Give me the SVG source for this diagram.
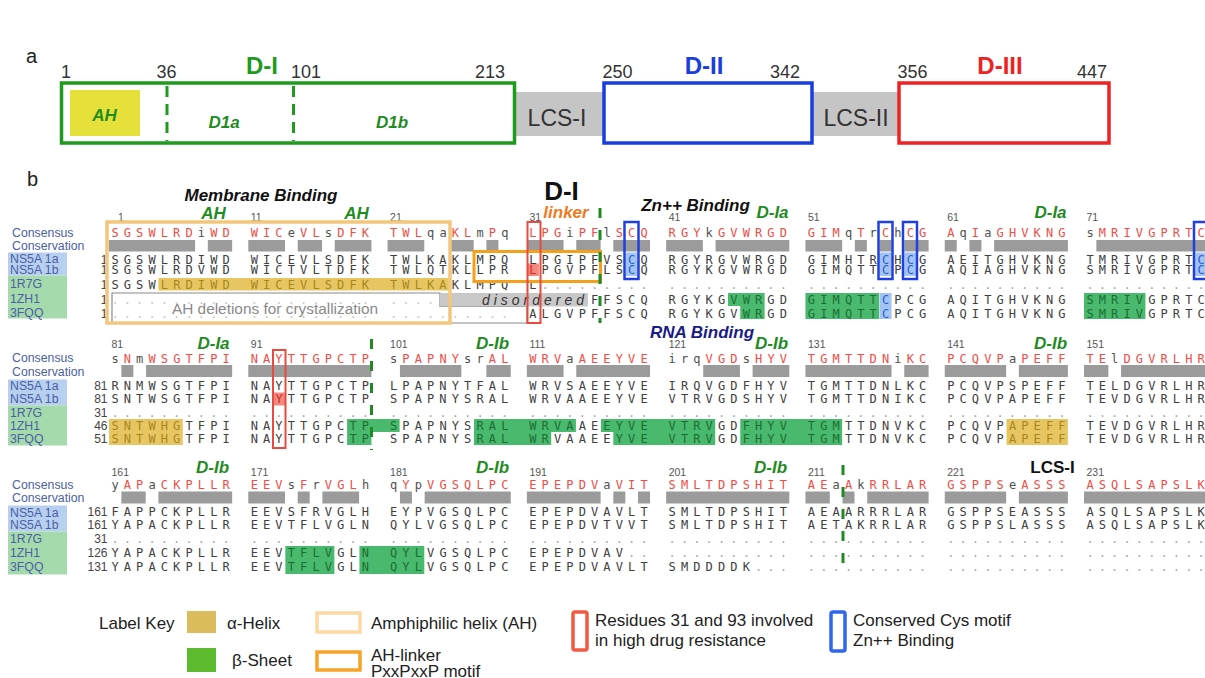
<svg xmlns="http://www.w3.org/2000/svg" width="1205" height="678" viewBox="0 0 1205 678">
<style>
.sans{font-family:"Liberation Sans",Arial,sans-serif}
.lab{font-family:"Liberation Sans",Arial,sans-serif;font-size:12.3px;fill:#4d5ea6}
.num{font-family:"Liberation Sans",Arial,sans-serif;font-size:10.5px;fill:#555}
.rn{font-family:"Liberation Sans",Arial,sans-serif;font-size:12px;fill:#444;text-anchor:end}
.seq{font-family:"DejaVu Sans Mono",monospace;font-size:12px;letter-spacing:5.125px;fill:#404040}
.con{fill:#ef4c45}
.lc{fill:#505050}
.dt{fill:#a8a8a8}
.dt2{fill:#c8c8c8}
.g{fill:#1d6e34}
.y{fill:#a8861e}
.b{fill:#2a5bd6}
.r{fill:#c8322a}
.bar{fill:#9b9b9b}
.hg{fill:#48b96d}
.hy{fill:#e7c662}
.hb{fill:#a3c4f3}
.hr{fill:#f4877e}
.dash{stroke:#1f8a24;stroke-width:3;stroke-dasharray:10 12;fill:none}
.ann{font-family:"Liberation Sans",Arial,sans-serif;font-weight:bold;font-style:italic;font-size:17px;text-anchor:middle}
.grn{fill:#1e8c1e}
.pn{font-family:"Liberation Sans",Arial,sans-serif;font-size:18px;fill:#333;text-anchor:middle}
.leg{font-family:"Liberation Sans",Arial,sans-serif;font-size:17px;fill:#222}
.lblue{fill:#b7d0ef}
.lgreen{fill:#a5dbac}
</style>

<!-- panel labels -->
<text class="sans" x="26" y="63" font-size="20" fill="#222">a</text>
<text class="sans" x="27" y="186" font-size="20" fill="#222">b</text>

<!-- panel a -->
<g id="panel-a">
  <g id="lcs1"><rect x="510" y="92" width="100" height="44" fill="#c5c5c5"/><text class="sans" x="557" y="126" font-size="23" fill="#333" text-anchor="middle">LCS-I</text></g>
  <g id="lcs2"><rect x="808" y="92" width="95" height="44" fill="#c5c5c5"/><text class="sans" x="856" y="126" font-size="23" fill="#333" text-anchor="middle">LCS-II</text></g>
  <g id="domain-I">
    <rect x="61.5" y="83" width="453" height="60" fill="#fff" stroke="#1e9b1e" stroke-width="3.5"/>
    <rect x="70" y="90" width="70" height="46" fill="#e6e13a"/>
    <text class="ann" x="104.5" y="120.5" font-size="21" fill="#1e8c1e">AH</text>
    <line x1="167" y1="86" x2="167" y2="141" stroke="#1e9b1e" stroke-width="3" stroke-dasharray="11 7"/>
    <line x1="293.5" y1="86" x2="293.5" y2="141" stroke="#1e9b1e" stroke-width="3" stroke-dasharray="11 7"/>
    <text class="ann" x="224" y="128" font-size="21" fill="#1e8c1e">D1a</text>
    <text class="ann" x="392" y="128" font-size="21" fill="#1e8c1e">D1b</text>
    <text class="sans" x="262" y="74" font-size="24" font-weight="bold" fill="#1e9b1e" text-anchor="middle">D-I</text>
    <text class="pn" x="66" y="78">1</text>
    <text class="pn" x="166.5" y="78">36</text>
    <text class="pn" x="306" y="78">101</text>
    <text class="pn" x="490" y="78">213</text>
  </g>
  <g id="domain-II">
    <rect x="604" y="83" width="208" height="60" fill="#fff" stroke="#1a3de0" stroke-width="3.5"/>
    <text class="sans" x="704" y="74" font-size="24" font-weight="bold" fill="#1a3de0" text-anchor="middle">D-II</text>
    <text class="pn" x="617.5" y="78">250</text>
    <text class="pn" x="785" y="78">342</text>
  </g>
  <g id="domain-III">
    <rect x="899" y="83" width="210" height="60" fill="#fff" stroke="#ee2222" stroke-width="3.5"/>
    <text class="sans" x="1000" y="74" font-size="24" font-weight="bold" fill="#ee2222" text-anchor="middle">D-III</text>
    <text class="pn" x="912.5" y="78">356</text>
    <text class="pn" x="1092" y="78">447</text>
  </g>
</g>

<!-- ============ BLOCK 1 ============ -->
<g id="block1">
  <g id="labels1">
    <rect class="lblue" x="8" y="252.5" width="59" height="23"/>
    <rect class="lgreen" x="8" y="275.5" width="59" height="43"/>
    <text class="lab" x="12" y="236.5">Consensus</text>
    <text class="lab" x="12" y="249.5">Conservation</text>
    <text class="lab" x="10" y="263">NS5A 1a</text>
    <text class="lab" x="10" y="273.5">NS5A 1b</text>
    <text class="lab" x="10" y="288">1R7G</text>
    <text class="lab" x="10" y="303">1ZH1</text>
    <text class="lab" x="10" y="317">3FQQ</text>
  </g>
  <text class="ann" x="261" y="201" fill="#111">Membrane Binding</text>
  <text class="ann grn" x="213.5" y="218.5">AH</text>
  <text class="ann grn" x="356.5" y="218.5">AH</text>
  <text class="sans" x="561.5" y="200" font-size="26" font-weight="bold" fill="#111" text-anchor="middle">D-I</text>
  <text class="ann" x="566" y="218" fill="#f07a1e">linker</text>
  <text class="ann" x="695.5" y="210.5" fill="#111">Zn++ Binding</text>
  <text class="ann grn" x="772.5" y="218">D-Ia</text>
  <text class="ann grn" x="1050.5" y="218">D-Ia</text>
  <text class="num" y="221"><tspan x="118">1</tspan><tspan x="250.8">11</tspan><tspan x="390.1">21</tspan><tspan x="529.4">31</tspan><tspan x="668.7">41</tspan><tspan x="808">51</tspan><tspan x="947.2">61</tspan><tspan x="1086.5">71</tspan></text>
  <g id="bars1">
    <rect class="bar" x="109" y="240" width="86.1" height="11.5"/><rect class="bar" x="207.8" y="240" width="24.35" height="11.5"/>
    <rect class="bar" x="248.29" y="240" width="36.7" height="11.5"/><rect class="bar" x="297.69" y="240" width="24.35" height="11.5"/><rect class="bar" x="334.74" y="240" width="36.7" height="11.5"/>
    <rect class="bar" x="387.58" y="240" width="36.7" height="11.5"/><rect class="bar" x="449.33" y="240" width="24.35" height="11.5"/><rect class="bar" x="486.38" y="240" width="12" height="11.5"/>
    <rect class="bar" x="526.87" y="240" width="36.7" height="11.5"/><rect class="bar" x="576.27" y="240" width="24.35" height="11.5"/><rect class="bar" x="613.32" y="240" width="36.7" height="11.5"/>
    <rect class="bar" x="666.16" y="240" width="36.7" height="11.5"/><rect class="bar" x="715.56" y="240" width="73.75" height="11.5"/>
    <rect class="bar" x="805.45" y="240" width="36.7" height="11.5"/><rect class="bar" x="854.85" y="240" width="12" height="11.5"/><rect class="bar" x="879.55" y="240" width="12" height="11.5"/><rect class="bar" x="904.25" y="240" width="24.35" height="11.5"/>
    <rect class="bar" x="944.74" y="240" width="12" height="11.5"/><rect class="bar" x="969.44" y="240" width="12" height="11.5"/><rect class="bar" x="994.14" y="240" width="73.75" height="11.5"/>
    <rect class="bar" x="1096.38" y="240" width="110.8" height="11.5"/>
  </g>
  <g id="hl1">
    <rect class="hy" x="158.4" y="278" width="290.6" height="12.5"/>
    <rect class="hb" x="625.67" y="252.5" width="12" height="23.5"/>
    <rect class="hb" x="879.55" y="252.5" width="12" height="23.5"/>
    <rect class="hb" x="904.25" y="252.5" width="12" height="23.5"/>
    <rect class="hb" x="1195.18" y="252.5" width="12" height="23.5"/>
    <rect class="hr" x="526.87" y="263.5" width="12" height="12.5"/>
    <rect class="hg" x="727.91" y="293" width="36.7" height="13"/>
    <rect class="hg" x="740.26" y="306" width="24.35" height="13"/>
    <rect class="hg" x="805.45" y="293" width="73.75" height="26"/>
    <rect class="hb" x="879.55" y="293" width="12" height="26"/>
    <rect class="hg" x="1084.03" y="293" width="61.4" height="26"/>
  </g>
  <g id="ahdel">
    <polygon points="112,293 440,293 440,306.5 527,306.5 527,323 112,323" fill="#fff" stroke="#8a8a8a" stroke-width="1.2"/>
    <rect x="440" y="293" width="148" height="13.5" fill="#c8c8c8"/>
  </g>
  <text class="seq con" y="237"><tspan x="111.39">SGSWLRD<tspan class="lc">i</tspan>WD</tspan> <tspan x="250.68">WIC<tspan class="lc">e</tspan>VL<tspan class="lc">s</tspan>DFK</tspan> <tspan x="389.97">TWL<tspan class="lc">qa</tspan>KL<tspan class="lc">m</tspan>P<tspan class="lc">q</tspan></tspan> <tspan x="529.26">LPG<tspan class="lc">i</tspan>PF<tspan class="lc">l</tspan>SCQ</tspan> <tspan x="668.55">RGY<tspan class="lc">k</tspan>GVWRGD</tspan> <tspan x="807.84">GIM<tspan class="lc">q</tspan>T<tspan class="lc">r</tspan>C<tspan class="lc">h</tspan>CG</tspan> <tspan x="947.13">A<tspan class="lc">q</tspan>I<tspan class="lc">a</tspan>GHVKNG</tspan> <tspan x="1086.42"><tspan class="lc">s</tspan>MRIVGPRTC</tspan></text>
  <text class="seq" y="263.5"><tspan x="111.39">SGSWLRDIWD</tspan> <tspan x="250.68">WICEVLSDFK</tspan> <tspan x="389.97">TWLKAKLMPQ</tspan> <tspan x="529.26">LPGIPFVS<tspan class="b">C</tspan>Q</tspan> <tspan x="668.55">RGYRGVWRGD</tspan> <tspan x="807.84">GIMHTR<tspan class="b">C</tspan>H<tspan class="b">C</tspan>G</tspan> <tspan x="947.13">AEITGHVKNG</tspan> <tspan x="1086.42">TMRIVGPRT<tspan class="b">C</tspan></tspan></text>
  <text class="seq" y="274"><tspan x="111.39">SGSWLRDVWD</tspan> <tspan x="250.68">WICTVLTDFK</tspan> <tspan x="389.97">TWLQTKLLPR</tspan> <tspan x="529.26"><tspan class="r">L</tspan>PGVPFLS<tspan class="b">C</tspan>Q</tspan> <tspan x="668.55">RGYKGVWRGD</tspan> <tspan x="807.84">GIMQTT<tspan class="b">C</tspan>P<tspan class="b">C</tspan>G</tspan> <tspan x="947.13">AQIAGHVKNG</tspan> <tspan x="1086.42">SMRIVGPRT<tspan class="b">C</tspan></tspan></text>
  <text class="seq" y="288.5"><tspan x="111.39">SGSW<tspan class="y">LRDIWD</tspan></tspan> <tspan x="250.68" class="y">WICEVLSDFK</tspan> <tspan x="389.97"><tspan class="y">TWLKA</tspan>KLMPQ</tspan> <tspan x="529.26">L<tspan class="dt">.........</tspan></tspan> <tspan x="668.55" class="dt">..........</tspan> <tspan x="807.84" class="dt">..........</tspan> <tspan x="947.13" class="dt">..........</tspan> <tspan x="1086.42" class="dt">..........</tspan></text>
  <text class="seq" y="303.5"><tspan x="111.39" class="dt2">..........</tspan> <tspan x="250.68" class="dt2">..........</tspan> <tspan x="389.97" class="dt2">....</tspan> <tspan x="591.01">FFSCQ</tspan> <tspan x="668.55">RGYKG<tspan class="g">VWR</tspan>GD</tspan> <tspan x="807.84"><tspan class="g">GIMQTT</tspan><tspan class="b">C</tspan>PCG</tspan> <tspan x="947.13">AQITGHVKNG</tspan> <tspan x="1086.42"><tspan class="g">SMRIV</tspan>GPRTC</tspan></text>
  <text class="seq" y="317.5"><tspan x="111.39" class="dt2">..........</tspan> <tspan x="250.68" class="dt2">..........</tspan> <tspan x="389.97" class="dt2">..........</tspan> <tspan x="529.26">ALGVPFFSCQ</tspan> <tspan x="668.55">RGYKGV<tspan class="g">WR</tspan>GD</tspan> <tspan x="807.84"><tspan class="g">GIMQTT</tspan><tspan class="b">C</tspan>PCG</tspan> <tspan x="947.13">AQITGHVKNG</tspan> <tspan x="1086.42"><tspan class="g">SMRIV</tspan>GPRTC</tspan></text>
  <text class="rn" x="107.5" y="263.5">1</text><text class="rn" x="107.5" y="274">1</text><text class="rn" x="107.5" y="288.5">1</text><text class="rn" x="107.5" y="303.5">1</text><text class="rn" x="107.5" y="317.5">1</text>
  <text class="sans" x="535" y="305" font-size="14" font-style="italic" letter-spacing="4" fill="#333" text-anchor="middle">disordered</text>
  <text class="sans" x="275" y="313.5" font-size="15.4" fill="#8a8a8a" text-anchor="middle">AH deletions for crystallization</text>
  <g id="boxes1" fill="none">
    <rect x="107" y="222" width="343" height="101" stroke="#f2c77c" stroke-width="3.5"/>
    <rect x="474" y="251.5" width="126.5" height="30" stroke="#f5a01a" stroke-width="3"/>
    <rect x="527.5" y="222" width="13" height="101" stroke="#e84a3f" stroke-width="2"/>
    <rect x="624.5" y="222" width="14" height="57" stroke="#1f3fe0" stroke-width="2.5"/>
    <rect x="878.5" y="222" width="14" height="57" stroke="#1f3fe0" stroke-width="2.5"/>
    <rect x="903" y="222" width="14" height="57" stroke="#1f3fe0" stroke-width="2.5"/>
    <rect x="1194" y="222" width="14" height="57" stroke="#1f3fe0" stroke-width="2.5"/>
  </g>
  <line class="dash" x1="600" y1="208" x2="600" y2="323"/>
</g>

<!-- ============ BLOCK 2 ============ -->
<g id="block2">
  <g id="labels2">
    <rect class="lblue" x="8" y="379.5" width="59" height="26"/>
    <rect class="lgreen" x="8" y="405.5" width="59" height="40"/>
    <text class="lab" x="12" y="362">Consensus</text>
    <text class="lab" x="12" y="375.5">Conservation</text>
    <text class="lab" x="10" y="390">NS5A 1a</text>
    <text class="lab" x="10" y="403">NS5A 1b</text>
    <text class="lab" x="10" y="416.5">1R7G</text>
    <text class="lab" x="10" y="429.5">1ZH1</text>
    <text class="lab" x="10" y="442.5">3FQQ</text>
  </g>
  <text class="ann grn" x="213.5" y="349">D-Ia</text>
  <text class="ann grn" x="492.5" y="349">D-Ib</text>
  <text class="ann" x="702" y="337.5" fill="#1a1a88">RNA Binding</text>
  <text class="ann grn" x="771.5" y="349">D-Ib</text>
  <text class="ann grn" x="1050.5" y="349">D-Ib</text>
  <text class="num" y="348"><tspan x="111.5">81</tspan><tspan x="250.8">91</tspan><tspan x="390.1">101</tspan><tspan x="529.4">111</tspan><tspan x="668.7">121</tspan><tspan x="808">131</tspan><tspan x="947.2">141</tspan><tspan x="1086.5">151</tspan></text>
  <g id="bars2">
    <rect class="bar" x="121.35" y="365" width="12" height="12"/><rect class="bar" x="146.05" y="365" width="86.1" height="12"/>
    <rect class="bar" x="248.29" y="365" width="123.15" height="12"/>
    <rect class="bar" x="399.93" y="365" width="61.4" height="12"/><rect class="bar" x="486.38" y="365" width="24.35" height="12"/>
    <rect class="bar" x="526.87" y="365" width="36.7" height="12"/><rect class="bar" x="576.27" y="365" width="73.75" height="12"/>
    <rect class="bar" x="703.21" y="365" width="36.7" height="12"/><rect class="bar" x="752.61" y="365" width="36.7" height="12"/>
    <rect class="bar" x="805.45" y="365" width="86.1" height="12"/><rect class="bar" x="904.25" y="365" width="24.35" height="12"/>
    <rect class="bar" x="944.74" y="365" width="61.4" height="12"/><rect class="bar" x="1018.84" y="365" width="49.05" height="12"/>
    <rect class="bar" x="1084.03" y="365" width="24.35" height="12"/><rect class="bar" x="1121.08" y="365" width="86.1" height="12"/>
  </g>
  <g id="hl2">
    <rect class="hr" x="272.99" y="392.5" width="12" height="13"/>
    <rect class="hy" x="109" y="419" width="73.75" height="26"/>
    <rect class="hy" x="1006.49" y="419" width="61.4" height="26"/>
    <rect class="hg" x="347.09" y="419" width="52.49" height="13"/>
    <rect class="hg" x="474.03" y="419" width="101.89" height="13"/>
    <rect class="hg" x="600.97" y="419" width="114.24" height="13"/>
    <rect class="hg" x="347.09" y="432" width="24.35" height="13"/>
    <rect class="hg" x="474.03" y="432" width="77.19" height="13"/>
    <rect class="hg" x="613.32" y="432" width="101.89" height="13"/>
    <rect class="hg" x="740.26" y="419" width="101.89" height="26"/>
  </g>
  <text class="seq con" y="362.5"><tspan x="111.39"><tspan class="lc">s</tspan>N<tspan class="lc">m</tspan>WSGTFPI</tspan> <tspan x="250.68">NAYTTGPCTP</tspan> <tspan x="389.97"><tspan class="lc">s</tspan>PAPNY<tspan class="lc">sr</tspan>AL</tspan> <tspan x="529.26">WRV<tspan class="lc">a</tspan>AEEYVE</tspan> <tspan x="668.55"><tspan class="lc">irq</tspan>VGD<tspan class="lc">s</tspan>HYV</tspan> <tspan x="807.84">TGMTTDN<tspan class="lc">i</tspan>KC</tspan> <tspan x="947.13">PCQVP<tspan class="lc">a</tspan>PEFF</tspan> <tspan x="1086.42">TE<tspan class="lc">l</tspan>DGVRLHR</tspan></text>
  <text class="seq" y="390.4"><tspan x="111.39">RNMWSGTFPI</tspan> <tspan x="250.68">NAYTTGPCTP</tspan> <tspan x="389.97">LPAPNYTFAL</tspan> <tspan x="529.26">WRVSAEEYVE</tspan> <tspan x="668.55">IRQVGDFHYV</tspan> <tspan x="807.84">TGMTTDNLKC</tspan> <tspan x="947.13">PCQVPSPEFF</tspan> <tspan x="1086.42">TELDGVRLHR</tspan></text>
  <text class="seq" y="403.4"><tspan x="111.39">SNTWSGTFPI</tspan> <tspan x="250.68">NA<tspan class="r">Y</tspan>TTGPCTP</tspan> <tspan x="389.97">SPAPNYSRAL</tspan> <tspan x="529.26">WRVAAEEYVE</tspan> <tspan x="668.55">VTRVGDSHYV</tspan> <tspan x="807.84">TGMTTDNIKC</tspan> <tspan x="947.13">PCQVPAPEFF</tspan> <tspan x="1086.42">TEVDGVRLHR</tspan></text>
  <text class="seq dt" y="416.9"><tspan x="111.39">..........</tspan> <tspan x="250.68">..........</tspan> <tspan x="389.97">..........</tspan> <tspan x="529.26">..........</tspan> <tspan x="668.55">..........</tspan> <tspan x="807.84">..........</tspan> <tspan x="947.13">..........</tspan> <tspan x="1086.42">..........</tspan></text>
  <text class="seq" y="429.9"><tspan x="111.39"><tspan class="y">SNTWHG</tspan>TFPI</tspan> <tspan x="250.68">NAYTTGPC<tspan class="g">TP</tspan></tspan> <tspan x="389.97"><tspan class="g">S</tspan>PAPNYS<tspan class="g">RAL</tspan></tspan> <tspan x="529.26"><tspan class="g">WRVA</tspan>AE<tspan class="g">EYVE</tspan></tspan> <tspan x="668.55"><tspan class="g">VTRV</tspan>GD<tspan class="g">FHYV</tspan></tspan> <tspan x="807.84"><tspan class="g">TGM</tspan>TTDNVKC</tspan> <tspan x="947.13">PCQVP<tspan class="y">APEFF</tspan></tspan> <tspan x="1086.42">TEVDGVRLHR</tspan></text>
  <text class="seq" y="442.9"><tspan x="111.39"><tspan class="y">SNTWHG</tspan>TFPI</tspan> <tspan x="250.68">NAYTTGPC<tspan class="g">TP</tspan></tspan> <tspan x="389.97">SPAPNYS<tspan class="g">RAL</tspan></tspan> <tspan x="529.26"><tspan class="g">WR</tspan>VAAEE<tspan class="g">YVE</tspan></tspan> <tspan x="668.55"><tspan class="g">VTRV</tspan>GD<tspan class="g">FHYV</tspan></tspan> <tspan x="807.84"><tspan class="g">TGM</tspan>TTDNVKC</tspan> <tspan x="947.13">PCQVP<tspan class="y">APEFF</tspan></tspan> <tspan x="1086.42">TEVDGVRLHR</tspan></text>
  <text class="rn" x="107.5" y="390.4">81</text><text class="rn" x="107.5" y="403.4">81</text><text class="rn" x="107.5" y="416.9">31</text><text class="rn" x="107.5" y="429.9">46</text><text class="rn" x="107.5" y="442.9">51</text>
  <rect x="273" y="350" width="12.5" height="98" fill="none" stroke="#e84a3f" stroke-width="2"/>
  <line class="dash" x1="371.5" y1="339" x2="371.5" y2="450"/>
</g>

<!-- ============ BLOCK 3 ============ -->
<g id="block3">
  <g id="labels3">
    <rect class="lblue" x="8" y="505.5" width="59" height="26"/>
    <rect class="lgreen" x="8" y="531.5" width="59" height="43"/>
    <text class="lab" x="12" y="489">Consensus</text>
    <text class="lab" x="12" y="502">Conservation</text>
    <text class="lab" x="10" y="516.5">NS5A 1a</text>
    <text class="lab" x="10" y="529">NS5A 1b</text>
    <text class="lab" x="10" y="543">1R7G</text>
    <text class="lab" x="10" y="557">1ZH1</text>
    <text class="lab" x="10" y="571">3FQQ</text>
  </g>
  <text class="ann grn" x="212.5" y="473">D-Ib</text>
  <text class="ann grn" x="492.5" y="473">D-Ib</text>
  <text class="ann grn" x="770.5" y="473">D-Ib</text>
  <text class="sans" x="1052.5" y="473" font-size="17" font-weight="bold" fill="#111" text-anchor="middle">LCS-I</text>
  <text class="num" y="476"><tspan x="111.5">161</tspan><tspan x="250.8">171</tspan><tspan x="390.1">181</tspan><tspan x="529.4">191</tspan><tspan x="668.7">201</tspan><tspan x="808">211</tspan><tspan x="947.2">221</tspan><tspan x="1086.5">231</tspan></text>
  <g id="bars3">
    <rect class="bar" x="121.35" y="491.5" width="24.35" height="12"/><rect class="bar" x="158.4" y="491.5" width="73.75" height="12"/>
    <rect class="bar" x="248.29" y="491.5" width="36.7" height="12"/><rect class="bar" x="297.69" y="491.5" width="12" height="12"/><rect class="bar" x="322.39" y="491.5" width="36.7" height="12"/>
    <rect class="bar" x="399.93" y="491.5" width="12" height="12"/><rect class="bar" x="424.63" y="491.5" width="86.1" height="12"/>
    <rect class="bar" x="526.87" y="491.5" width="73.75" height="12"/><rect class="bar" x="613.32" y="491.5" width="12" height="12"/><rect class="bar" x="638.02" y="491.5" width="12" height="12"/>
    <rect class="bar" x="666.16" y="491.5" width="123.15" height="12"/>
    <rect class="bar" x="805.45" y="491.5" width="24.35" height="12"/><rect class="bar" x="842.5" y="491.5" width="12" height="12"/><rect class="bar" x="867.2" y="491.5" width="61.4" height="12"/>
    <rect class="bar" x="944.74" y="491.5" width="61.4" height="12"/><rect class="bar" x="1018.84" y="491.5" width="49.05" height="12"/>
    <rect class="bar" x="1084.03" y="491.5" width="123.15" height="12"/>
  </g>
  <g id="hl3">
    <rect class="hg" x="285.34" y="546" width="49.05" height="28"/>
    <rect class="hg" x="359.44" y="546" width="64.84" height="28"/>
  </g>
  <text class="seq con" y="489.4"><tspan x="111.39"><tspan class="lc">y</tspan>AP<tspan class="lc">a</tspan>CKPLLR</tspan> <tspan x="250.68">EEV<tspan class="lc">s</tspan>F<tspan class="lc">r</tspan>VGL<tspan class="lc">h</tspan></tspan> <tspan x="389.97"><tspan class="lc">q</tspan>Y<tspan class="lc">p</tspan>VGSQLPC</tspan> <tspan x="529.26">EPEPDV<tspan class="lc">a</tspan>VIT</tspan> <tspan x="668.55">SMLTDPSHIT</tspan> <tspan x="807.84">AE<tspan class="lc">a</tspan>A<tspan class="lc">k</tspan>RRLAR</tspan> <tspan x="947.13">GSPPS<tspan class="lc">e</tspan>ASSS</tspan> <tspan x="1086.42">ASQLSAPSLK</tspan></text>
  <text class="seq" y="516.4"><tspan x="111.39">FAPPCKPLLR</tspan> <tspan x="250.68">EEVSFRVGLH</tspan> <tspan x="389.97">EYPVGSQLPC</tspan> <tspan x="529.26">EPEPDVAVLT</tspan> <tspan x="668.55">SMLTDPSHIT</tspan> <tspan x="807.84">AEAARRRLAR</tspan> <tspan x="947.13">GSPPSEASSS</tspan> <tspan x="1086.42">ASQLSAPSLK</tspan></text>
  <text class="seq" y="529.4"><tspan x="111.39">YAPACKPLLR</tspan> <tspan x="250.68">EEVTFLVGLN</tspan> <tspan x="389.97">QYLVGSQLPC</tspan> <tspan x="529.26">EPEPDVTVVT</tspan> <tspan x="668.55">SMLTDPSHIT</tspan> <tspan x="807.84">AETAKRRLAR</tspan> <tspan x="947.13">GSPPSLASSS</tspan> <tspan x="1086.42">ASQLSAPSLK</tspan></text>
  <text class="seq dt" y="543.4"><tspan x="111.39">..........</tspan> <tspan x="250.68">..........</tspan> <tspan x="389.97">..........</tspan> <tspan x="529.26">..........</tspan> <tspan x="668.55">..........</tspan> <tspan x="807.84">..........</tspan> <tspan x="947.13">..........</tspan> <tspan x="1086.42">..........</tspan></text>
  <text class="seq" y="557.4"><tspan x="111.39">YAPACKPLLR</tspan> <tspan x="250.68">EEV<tspan class="g">TFLV</tspan>GL<tspan class="g">N</tspan></tspan> <tspan x="389.97"><tspan class="g">QYL</tspan>VGSQLPC</tspan> <tspan x="529.26">EPEPDVAV<tspan class="dt">..</tspan></tspan> <tspan x="668.55" class="dt">..........</tspan> <tspan x="807.84" class="dt">..........</tspan> <tspan x="947.13" class="dt">..........</tspan> <tspan x="1086.42" class="dt">..........</tspan></text>
  <text class="seq" y="571.4"><tspan x="111.39">YAPACKPLLR</tspan> <tspan x="250.68">EEV<tspan class="g">TFLV</tspan>GL<tspan class="g">N</tspan></tspan> <tspan x="389.97"><tspan class="g">QYL</tspan>VGSQLPC</tspan> <tspan x="529.26">EPEPDVAVLT</tspan> <tspan x="668.55">SMDDDDK<tspan class="dt">...</tspan></tspan> <tspan x="807.84" class="dt">..........</tspan> <tspan x="947.13" class="dt">..........</tspan> <tspan x="1086.42" class="dt">..........</tspan></text>
  <text class="rn" x="107.5" y="516.4">161</text><text class="rn" x="107.5" y="529.4">161</text><text class="rn" x="107.5" y="543.4">31</text><text class="rn" x="107.5" y="557.4">126</text><text class="rn" x="107.5" y="571.4">131</text>
  <line class="dash" x1="843" y1="465" x2="843" y2="573"/>
</g>

<!-- ============ LEGEND ============ -->
<g id="legend">
  <text class="leg" x="99" y="629">Label Key</text>
  <rect x="187" y="611" width="29" height="22" fill="#dbbb5c"/>
  <text class="leg" x="227" y="629">α-Helix</text>
  <rect x="187" y="648" width="29" height="24" fill="#5cbb2e"/>
  <text class="leg" x="232" y="666">β-Sheet</text>
  <rect x="317" y="613" width="43" height="19" fill="none" stroke="#fbd9a2" stroke-width="3.5"/>
  <text class="leg" x="371" y="629">Amphiphilic helix (AH)</text>
  <rect x="317" y="652" width="43" height="18" fill="none" stroke="#f6a428" stroke-width="3.5"/>
  <text class="leg" x="371" y="661">AH-linker</text>
  <text class="leg" x="371" y="677">PxxPxxP motif</text>
  <rect x="573" y="612" width="14" height="38" rx="2" fill="none" stroke="#f05a40" stroke-width="3.5"/>
  <text class="leg" x="595" y="626">Residues 31 and 93 involved</text>
  <text class="leg" x="595" y="646">in high drug resistance</text>
  <rect x="831" y="612" width="14" height="39" rx="2" fill="none" stroke="#2f66ee" stroke-width="3.5"/>
  <text class="leg" x="853" y="626">Conserved Cys motif</text>
  <text class="leg" x="853" y="646">Zn++ Binding</text>
</g>
</svg>
